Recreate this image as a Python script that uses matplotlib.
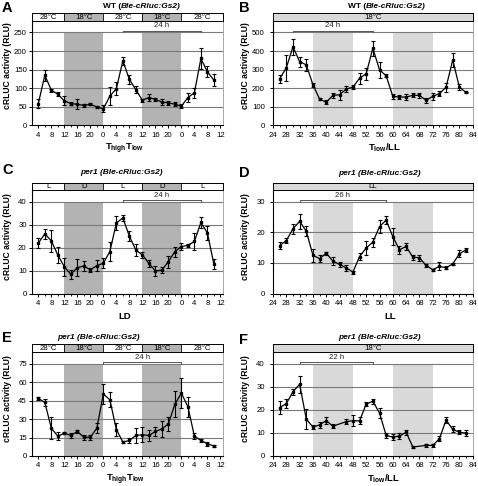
import matplotlib
matplotlib.use('Agg')
import matplotlib.pyplot as plt

plt.rcParams['font.family'] = ['Liberation Sans', 'DejaVu Sans']
plt.rcParams['mathtext.fontset'] = 'custom'
plt.rcParams['mathtext.rm'] = 'Liberation Sans'
plt.rcParams['mathtext.bf'] = 'Liberation Sans:bold'
plt.rcParams['mathtext.it'] = 'Liberation Sans:italic'

# ---------------- data ----------------
tA = [4, 6, 8, 10, 12, 14, 16, 18, 20, 22, 24, 26, 28, 30, 32, 34, 36, 38, 40, 42, 44, 46, 48, 50, 52, 54, 56, 58]
yA = [59, 135, 95, 84, 66, 59, 57, 54, 57, 50, 45, 79, 99, 174, 124, 96, 68, 75, 70, 63, 61, 57, 52, 75, 88, 180, 144, 122]
eA = [13, 15, 4, 5, 12, 4, 14, 3, 3, 3, 10, 24, 17, 11, 13, 9, 4, 9, 5, 8, 6, 5, 6, 12, 13, 27, 15, 16]

tB = [26, 28, 30, 32, 34, 36, 38, 40, 42, 44, 46, 48, 50, 52, 54, 56, 58, 60, 62, 64, 66, 68, 70, 72, 74, 76, 78, 80, 82]
yB = [251, 310, 423, 343, 326, 219, 142, 125, 162, 165, 196, 206, 254, 278, 415, 299, 267, 157, 153, 153, 162, 162, 135, 157, 171, 206, 352, 206, 178]
eB = [22, 70, 43, 27, 31, 10, 5, 12, 12, 27, 15, 10, 30, 33, 40, 42, 8, 12, 12, 15, 10, 12, 12, 18, 15, 25, 36, 15, 4]

tC = [4, 6, 8, 10, 12, 14, 16, 18, 20, 22, 24, 26, 28, 30, 32, 34, 36, 38, 40, 42, 44, 46, 48, 50, 52, 54, 56, 58]
yC = [22, 26, 23, 16.8, 11.7, 8.4, 11.3, 12, 10.3, 12.2, 13.2, 18.3, 30.8, 33, 25, 19, 16.8, 13.2, 9.8, 10.3, 13.9, 18.3, 20.5, 21, 22.7, 31, 26.4, 12.7]
eC = [2.3, 2.3, 4.7, 3.4, 4, 2, 3.7, 2, 1, 2.3, 2.2, 4, 2.9, 1.3, 2.2, 2.6, 1.5, 1.5, 2.2, 1.2, 2.6, 2.2, 1.5, 0.5, 3.7, 2.3, 3, 2.2]

tD = [26, 28, 30, 32, 34, 36, 38, 40, 42, 44, 46, 48, 50, 52, 54, 56, 58, 60, 62, 64, 66, 68, 70, 72, 74, 76, 78, 80, 82]
yD = [15.7, 17.3, 21.2, 23.6, 20.4, 12.5, 11.4, 13.2, 10.6, 9.5, 8.4, 7, 12.1, 14.9, 16.8, 21.9, 24, 18.6, 14.3, 15.4, 11.9, 11.7, 9.2, 7.8, 8.9, 8.4, 9.7, 13, 14.3]
eD = [1, 0.8, 1.6, 2.4, 1.6, 2.2, 1.2, 0.5, 1.2, 0.8, 1, 0.5, 1, 2.3, 1.5, 2.2, 1.3, 2.7, 1.3, 1.2, 0.8, 1, 0.5, 0.3, 1.3, 0.5, 0.3, 1.2, 0.6]

tE = [4, 6, 8, 10, 12, 14, 16, 18, 20, 22, 24, 26, 28, 30, 32, 34, 36, 38, 40, 42, 44, 46, 48, 50, 52, 54, 56, 58]
yE = [46.8, 43.5, 22.6, 16.1, 18.5, 16.7, 19.9, 15.3, 15.3, 22.6, 50.3, 45.7, 21.5, 11.3, 12.6, 16.7, 17.2, 16.7, 19.9, 22, 26, 42.2, 51, 40, 16.1, 12.6, 10, 8]
eE = [1, 3, 8.7, 3.5, 1, 2, 1.5, 2, 2, 4, 8, 6.3, 5, 1, 2, 6.3, 6, 4.5, 4, 6.3, 5.4, 10.3, 12, 8, 2.5, 1.5, 1.5, 1]

tF = [26, 28, 30, 32, 34, 36, 38, 40, 42, 46, 48, 50, 52, 54, 56, 58, 60, 62, 64, 66, 70, 72, 74, 76, 78, 80, 82]
yF = [21, 22.7, 27.8, 31.1, 16, 12.5, 13.5, 15.3, 12.9, 14.9, 15.3, 15.2, 22.5, 23.7, 18.6, 8.9, 8.2, 8.6, 10.3, 3.9, 4.6, 4.6, 7.5, 15.6, 11.5, 10.3, 9.9]
eF = [2.9, 1.8, 1.4, 3.7, 4.3, 1, 1.3, 1.4, 0.8, 1, 2.3, 1.5, 1, 1, 2.2, 1, 1.3, 1.4, 1, 0.5, 0.5, 0.5, 1, 1.3, 1.3, 0.8, 1.2]

ticks_left = [4, 8, 12, 16, 20, 24, 28, 32, 36, 40, 44, 48, 52, 56, 60]
ticklabels_left = ['4', '8', '12', '16', '20', '0', '4', '8', '12', '16', '20', '0', '4', '8', '12']
ticks_right = [24, 28, 32, 36, 40, 44, 48, 52, 56, 60, 64, 68, 72, 76, 80, 84]
ticklabels_right = [str(v) for v in ticks_right]

temp_labels = ['28°C', '18°C', '28°C', '18°C', '28°C']
ld_labels = ['L', 'D', 'L', 'D', 'L']

# ---------------- layout helpers ----------------
W, H = 478, 486
fig = plt.figure(figsize=(W / 100, H / 100), dpi=100)


def rect(x0, y0, x1, y1):
    return [x0 / W, 1 - y1 / H, (x1 - x0) / W, (y1 - y0) / H]


def fx(x):
    return x / W


def fy(y):
    return 1 - y / H


DARK = '#b3b3b3'
LIGHT = '#d9d9d9'
GRID = '#7a7a7a'
FS = 5.6

LEFT_X = (32.3, 222.7)
RIGHT_X = (273.0, 472.7)
XLIM_L = (2.15, 60.7)
XLIM_R = (24, 84)
ROWS = [(13.3, 20.7, 125.5), (182.5, 190.3, 293.5), (344.3, 352.0, 456.0)]
FRAC = 0.888


def panel(col, row, xs, ys, es, yticks, shade_spans, shade_col,
          hdr_bounds, hdr_labels, hdr_fills, bracket, blabel):
    x0, x1 = LEFT_X if col == 0 else RIGHT_X
    xlim = XLIM_L if col == 0 else XLIM_R
    htop, hbot, abot = ROWS[row]
    ytop = yticks[-1]
    ax = fig.add_axes(rect(x0, hbot, x1, abot))
    ax.set_xlim(*xlim)
    ax.set_ylim(0, ytop / FRAC)
    for s0, s1 in shade_spans:
        ax.fill_between([s0, s1], 0, ytop, color=shade_col, lw=0, zorder=0)
    for yv in yticks[1:]:
        ax.axhline(yv, color=GRID, lw=0.8, zorder=1)
    ax.errorbar(xs, ys, yerr=es, color='black', lw=0.9, marker='s', ms=1.6,
                capsize=1.6, elinewidth=0.8, capthick=0.8, zorder=3)
    ax.set_yticks(yticks)
    ax.set_yticklabels([str(v) for v in yticks])
    if col == 0:
        ax.set_xticks(ticks_left)
        ax.set_xticklabels(ticklabels_left)
        ax.set_xticks([t for t in range(4, 61, 2) if t % 4 != 0], minor=True)
        ypad = 1.8
    else:
        ax.set_xticks(ticks_right)
        ax.set_xticklabels(ticklabels_right)
        ax.set_xticks([t for t in range(26, 84, 4)], minor=True)
        ypad = 3.6
    ax.tick_params(axis='both', which='major', labelsize=FS, length=2.2, width=0.7, color='black')
    ax.tick_params(axis='y', pad=ypad)
    ax.tick_params(axis='x', pad=2.4)
    ax.tick_params(axis='x', which='minor', length=1.5, width=0.6)
    for s in ['left', 'bottom']:
        ax.spines[s].set_color('black')
        ax.spines[s].set_linewidth(0.8)
    ax.spines['top'].set_visible(False)
    ax.spines['right'].set_color('#9a9a9a')
    ax.spines['right'].set_linewidth(0.6)
    ax.set_facecolor('white')

    # bracket
    b0, b1 = bracket
    yb = ytop / FRAC * 0.905
    ax.plot([b0, b1], [yb, yb], color='#555555', lw=0.7, clip_on=False, zorder=4)
    ax.plot([b0, b0], [yb, ytop], color='#555555', lw=0.7, zorder=4)
    ax.plot([b1, b1], [yb, ytop], color='#555555', lw=0.7, zorder=4)
    ax.text((b0 + b1) / 2, yb + ytop / FRAC * 0.012, blabel, ha='center', va='bottom',
            fontsize=FS, color='#222222')

    # header
    hax = fig.add_axes(rect(x0, htop, x1, hbot))
    hax.set_xlim(*xlim)
    hax.set_ylim(0, 1)
    hax.set_xticks([])
    hax.set_yticks([])
    for s in hax.spines.values():
        s.set_color('black')
        s.set_linewidth(0.7)
    bounds = [xlim[0]] + hdr_bounds + [xlim[1]]
    for i, lab in enumerate(hdr_labels):
        c0, c1 = bounds[i], bounds[i + 1]
        hax.axvspan(c0, c1, color=hdr_fills[i], lw=0)
        if i > 0:
            hax.axvline(c0, color='black', lw=0.6)
        hax.text((c0 + c1) / 2, 0.45, lab, ha='center', va='center', fontsize=FS)
    return ax


# Panel A
panel(0, 0, tA, yA, eA, [0, 50, 100, 150, 200, 250], [(12, 24), (36, 48)], DARK,
      [12, 24, 36, 48], temp_labels, ['white', DARK, 'white', DARK, 'white'], (30, 54), '24 h')
# Panel B
panel(1, 0, tB, yB, eB, [0, 100, 200, 300, 400, 500], [(36, 48), (60, 72)], LIGHT,
      [], ['18°C'], [LIGHT], (30, 54), '24 h')
# Panel C
panel(0, 1, tC, yC, eC, [0, 10, 20, 30, 40], [(12, 24), (36, 48)], DARK,
      [12, 24, 36, 48], ld_labels, ['white', DARK, 'white', DARK, 'white'], (30, 54), '24 h')
# Panel D
panel(1, 1, tD, yD, eD, [0, 10, 20, 30], [(36, 48), (60, 72)], LIGHT,
      [], ['LL'], [LIGHT], (32, 58), '26 h')
# Panel E
panel(0, 2, tE, yE, eE, [0, 15, 30, 45, 60, 75], [(12, 24), (36, 48)], DARK,
      [12, 24, 36, 48], temp_labels, ['white', DARK, 'white', DARK, 'white'], (24, 48), '24 h')
# Panel F
panel(1, 2, tF, yF, eF, [0, 10, 20, 30, 40], [(36, 48), (60, 72)], LIGHT,
      [], ['18°C'], [LIGHT], (32, 54), '22 h')

# ---------------- texts ----------------
letters = [('A', 2, 8), ('B', 239, 8), ('C', 2, 170), ('D', 239, 173), ('E', 2, 338), ('F', 239, 340)]
for lt, x, y in letters:
    fig.text(fx(x), fy(y), lt, fontsize=10.5, fontweight='bold', ha='left', va='center')

# titles
def wt_title(x, y):
    t1 = fig.text(fx(x), fy(y), 'WT (', fontsize=6, fontweight='bold', ha='left', va='center')
    fig.canvas.draw()
    bb = t1.get_window_extent()
    fig.text(bb.x1 / W, fy(y), 'Ble-cRluc:Gs2)', fontsize=6, fontweight='bold',
             style='italic', ha='left', va='center')

wt_title(103, 6)
wt_title(348, 6)
for x, y in [(80, 172.7), (338, 173.3), (57, 337), (338, 337)]:
    fig.text(fx(x), fy(y), 'per1 (Ble-cRluc:Gs2)', fontsize=6, fontweight='bold',
             style='italic', ha='left', va='center')

# y labels
for x in [7.3, 245]:
    for y in [66, 236.5, 398.5]:
        fig.text(fx(x), fy(y), 'cRLUC activity (RLU)', fontsize=6.2, fontweight='bold',
                 rotation=90, ha='center', va='center')

# x labels (baseline positioned)
thl = r'$\mathbf{T_{high}T_{low}}$'
tll = r'$\mathbf{T_{low}/LL}$'
xlabels = [(thl, 125, 151), (tll, 385, 151), ('LD', 125, 319), ('LL', 390, 319),
           (thl, 126, 481.5), (tll, 384, 481.5)]
for lab, x, y in xlabels:
    fig.text(fx(x), fy(y), lab, fontsize=6.8, fontweight='bold', ha='center', va='baseline')

fig.savefig('out.png', dpi=100)
